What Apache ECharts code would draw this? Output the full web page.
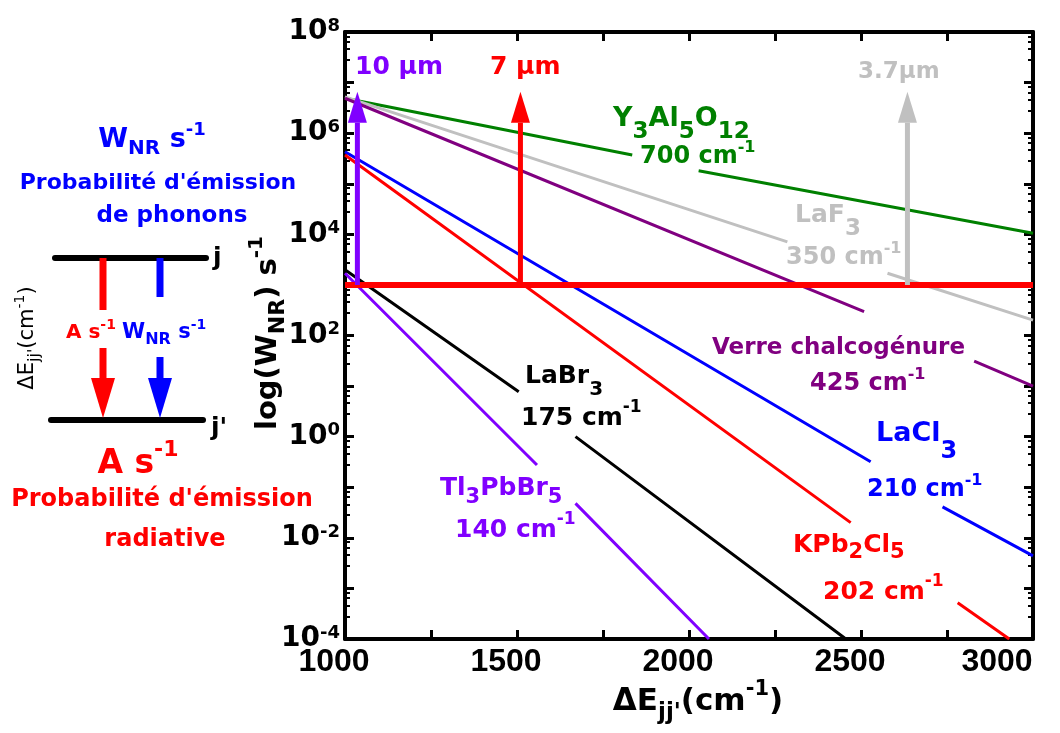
<!DOCTYPE html>
<html>
<head>
<meta charset="utf-8">
<script src="https://cdn.jsdelivr.net/npm/echarts@6/dist/echarts.min.js"></script>
<style>
  html, body { margin: 0; padding: 0; background: #fff; }
  #chart { width: 1060px; height: 733px; }
</style>
</head>
<body>
<div id="chart"></div>
<script>
// ---------- data ----------
const xTicks = [1000, 1500, 2000, 2500, 3000];
const yExponents = [-4, -2, 0, 2, 4, 6, 8];

// Y3Al5O12 700 cm-1
const yagX = [1000, 1835, null, 2028, 3000];
const yagY = [4.9e6, 3.7e5, null, 1.8e5, 1.05e4];
// LaF3 350 cm-1
const lafX = [1000, 2286, null, 2577, 3000];
const lafY = [5.2e6, 7.1e3, null, 1.7e3, 202];
// Verre chalcogénure 425 cm-1
const chalcoX = [1000, 2509, null, 2829, 3000];
const chalcoY = [4.9e6, 295, null, 31, 10];
// LaCl3 210 cm-1
const laclX = [1000, 2528, null, 2737, 3000];
const laclY = [4.3e5, 0.32, null, 0.041, 4.4e-3];
// KPb2Cl5 202 cm-1
const kpbX = [1000, 2470, null, 2781, 2931];
const kpbY = [3.7e5, 0.020, null, 5.2e-4, 1e-4];
// LaBr3 175 cm-1
const labrX = [1000, 1505, null, 1670, 2456];
const labrY = [2.0e3, 7.7, null, 1.0, 1e-4];
// Tl3PbBr5 140 cm-1
const tlX = [1000, 1558, null, 1670, 2058];
const tlY = [1.7e3, 0.275, null, 0.048, 1e-4];

// radiative threshold line
const thresholdX = [1000, 3000];
const thresholdY = [1e3, 1e3];

// wavelength arrows: 10 µm, 7 µm, 3.7 µm
const arrowX = [1036, 1510, 2635];
const arrowBase = 1e3;
const arrowTop = 1.6e6;

// ---------- style ----------
const FONT = 'DejaVu Sans, Liberation Sans, sans-serif';
const TICKFONT = 'Liberation Sans, Arial, sans-serif';
const C = {
  green: '#008000', gray: '#c0c0c0', purple: '#800080', blue: '#0000ff',
  red: '#ff0000', black: '#000000', violet: '#8000ff'
};

function pairs(xs, ys) {
  return xs.map((x, i) => (x == null ? ['-', '-'] : [x, ys[i]]));
}
function lineSeries(xs, ys, color, width) {
  return {
    type: 'line', data: pairs(xs, ys), showSymbol: false, symbol: 'none',
    connectNulls: false, silent: true, animation: false,
    lineStyle: { color: color, width: width || 3 }, z: 3
  };
}
function arrowSeries(x, color) {
  return {
    type: 'line', silent: true, animation: false, showSymbol: true, symbol: 'none',
    lineStyle: { color: color, width: 5 }, itemStyle: { color: color }, z: 6,
    data: [
      { value: [x, arrowBase], symbol: 'none' },
      { value: [x, arrowTop], symbol: 'triangle', symbolSize: [19, 31], symbolOffset: [0, '-50%'] }
    ]
  };
}

// rich text helper for graphic labels (sub/superscripts)
function rich(color, size, bold, subRatio, drop) {
  const w = bold === false ? 'normal' : 'bold';
  const sub = Math.round(size * (subRatio || 0.75));
  const sup = Math.round(size * 0.68);
  const d = drop != null ? drop : Math.round(size * 0.35);
  const Lm = Math.max(2 * d + sub, Math.round(size * 1.3));
  const raise = Math.round(size * 0.42);
  const q = Math.max(0, Math.round(Lm / 2 - sup / 2 - raise));
  const pb = Math.max(0, Math.round(Lm / 2 - sub / 2 - d));
  return {
    m: { fill: color, fontSize: size, fontWeight: w, fontFamily: FONT, lineHeight: Lm },
    sub: { fill: color, fontSize: sub, fontWeight: w, fontFamily: FONT, verticalAlign: 'bottom', padding: [0, 0, pb, 0] },
    sup: { fill: color, fontSize: sup, fontWeight: w, fontFamily: FONT, verticalAlign: 'top', padding: [q, 0, 0, 0] }
  };
}
function label(x, y, text, color, size, align, opts) {
  const o = opts || {};
  return {
    type: 'text', x: x, y: y, rotation: o.rotation || 0, z: 20, silent: true,
    style: {
      text: text, rich: rich(color, size, o.bold, o.subRatio, o.drop), fill: color,
      font: (o.bold === false ? '' : 'bold ') + size + 'px ' + FONT,
      align: align || 'left', verticalAlign: 'middle'
    }
  };
}

const graphics = [
  // ---- left explanatory diagram ----
  label(152, 140, '{m|W}{sub|NR}{m| s}{sup|-1}', C.blue, 27, 'center'),
  label(158, 183, '{m|Probabilité d\'émission}', C.blue, 22, 'center'),
  label(172, 216, '{m|de phonons}', C.blue, 23, 'center'),
  { type: 'line', silent: true, shape: { x1: 55, y1: 258, x2: 206, y2: 258 }, style: { stroke: '#000', lineWidth: 6, lineCap: 'round' } },
  { type: 'line', silent: true, shape: { x1: 51, y1: 420, x2: 203, y2: 420 }, style: { stroke: '#000', lineWidth: 6, lineCap: 'round' } },
  label(213, 258, '{m|j}', C.black, 25, 'left'),
  label(211, 428, '{m|j\'}', C.black, 25, 'left'),
  // red arrow (radiative)
  { type: 'line', silent: true, shape: { x1: 103, y1: 258, x2: 103, y2: 310 }, style: { stroke: C.red, lineWidth: 7 } },
  { type: 'line', silent: true, shape: { x1: 103, y1: 348, x2: 103, y2: 382 }, style: { stroke: C.red, lineWidth: 7 } },
  { type: 'polygon', silent: true, shape: { points: [[91, 378], [115, 378], [103, 418]] }, style: { fill: C.red } },
  // blue arrow (non-radiative)
  { type: 'line', silent: true, shape: { x1: 160, y1: 258, x2: 160, y2: 297 }, style: { stroke: C.blue, lineWidth: 7 } },
  { type: 'line', silent: true, shape: { x1: 160, y1: 357, x2: 160, y2: 382 }, style: { stroke: C.blue, lineWidth: 7 } },
  { type: 'polygon', silent: true, shape: { points: [[148, 378], [172, 378], [160, 418]] }, style: { fill: C.blue } },
  label(66, 333, '{m|A s}{sup|-1}', C.red, 20, 'left'),
  label(122, 333, '{m|W}{sub|NR}{m| s}{sup|-1}', C.blue, 21, 'left'),
  label(28, 338, '{m|ΔE}{sub|jj\'}{m|(cm}{sup|-1}{m|)}', C.black, 21, 'center', { bold: false, rotation: Math.PI / 2 }),
  label(138, 464, '{m|A s}{sup|-1}', C.red, 33, 'center'),
  label(162, 500, '{m|Probabilité d\'émission}', C.red, 24, 'center'),
  label(165, 540, '{m|radiative}', C.red, 24, 'center'),

  // ---- axis titles ----
  label(268, 333, '{m|log(W}{sub|NR}{m|) s}{sup|-1}', C.black, 29, 'center', { rotation: Math.PI / 2 }),
  label(698, 702, '{m|ΔE}{sub|jj\'}{m|(cm}{sup|-1}{m|)}', C.black, 31, 'center'),

  // ---- in-plot labels ----
  label(355, 67, '{m|10 µm}', C.violet, 25, 'left'),
  label(490, 67, '{m|7 µm}', C.red, 25, 'left'),
  label(858, 72, '{m|3.7µm}', C.gray, 23, 'left'),
  label(613, 119, '{m|Y}{sub|3}{m|Al}{sub|5}{m|O}{sub|12}', C.green, 27, 'left', { subRatio: 0.85, drop: 13 }),
  label(640, 157, '{m|700 cm}{sup|-1}', C.green, 24, 'left'),
  label(795, 215, '{m|LaF}{sub|3}', C.gray, 25, 'left', { subRatio: 0.9, drop: 14 }),
  label(786, 258, '{m|350 cm}{sup|-1}', C.gray, 24, 'left'),
  label(712, 348, '{m|Verre chalcogénure}', C.purple, 23, 'left'),
  label(810, 384, '{m|425 cm}{sup|-1}', C.purple, 24, 'left'),
  label(876, 434, '{m|LaCl}{sub|3}', C.blue, 27, 'left', { subRatio: 0.9, drop: 18 }),
  label(867, 490, '{m|210 cm}{sup|-1}', C.blue, 24, 'left'),
  label(793, 545, '{m|KPb}{sub|2}{m|Cl}{sub|5}', C.red, 25, 'left', { subRatio: 0.85, drop: 8 }),
  label(823, 592, '{m|202 cm}{sup|-1}', C.red, 25, 'left'),
  label(525, 376, '{m|LaBr}{sub|3}', C.black, 25, 'left', { subRatio: 0.8, drop: 14 }),
  label(521, 418, '{m|175 cm}{sup|-1}', C.black, 25, 'left'),
  label(440, 488, '{m|Tl}{sub|3}{m|PbBr}{sub|5}', C.violet, 25, 'left', { subRatio: 0.85, drop: 10 }),
  label(455, 530, '{m|140 cm}{sup|-1}', C.violet, 25, 'left')
];

const axisLineStyle = { show: true, lineStyle: { color: '#000', width: 4 } };

const yLabelRich = {
  b: { fontSize: 28, fontWeight: 'bold', fontFamily: FONT, color: '#000', lineHeight: 30 },
  s: { fontSize: 18, fontWeight: 'bold', fontFamily: FONT, color: '#000', verticalAlign: 'top', lineHeight: 19 }
};
const xLabelRich = {
  n: { fontSize: 32, fontWeight: 'bold', fontFamily: TICKFONT, color: '#000' },
  e: { fontSize: 32, fontWeight: 'bold', fontFamily: TICKFONT, color: '#000', padding: [0, 50, 0, 0] }
};

const option = {
  backgroundColor: '#fff',
  animation: false,
  grid: { left: 345, right: 27, top: 32, bottom: 94, containLabel: false },
  xAxis: [
    {
      type: 'value', min: 1000, max: 3000, interval: 250, position: 'bottom',
      axisLine: axisLineStyle,
      axisTick: { show: true, inside: true, length: 9, lineStyle: { width: 3, color: '#000' } },
      splitLine: { show: false },
      axisLabel: {
        margin: 7, rich: xLabelRich,
        padding: [0, 22, 0, 0],
        formatter: v => {
          if (xTicks.indexOf(v) < 0) return '';
          return v === xTicks[xTicks.length - 1] ? '{e|' + v + '}' : '{n|' + v + '}';
        }
      }
    },
    {
      type: 'value', min: 1000, max: 3000, interval: 250, position: 'top',
      axisLine: axisLineStyle,
      axisTick: { show: true, inside: true, length: 9, lineStyle: { width: 3, color: '#000' } },
      splitLine: { show: false }, axisLabel: { show: false }
    }
  ],
  yAxis: [
    {
      type: 'log', min: 1e-4, max: 1e8, interval: 1, position: 'left',
      axisLine: axisLineStyle,
      axisTick: { show: true, inside: true, length: 9, lineStyle: { width: 3, color: '#000' } },
      minorTick: { show: true, splitNumber: 5, length: 5, lineStyle: { width: 2, color: '#000' } },
      splitLine: { show: false }, minorSplitLine: { show: false },
      axisLabel: {
        margin: 5, rich: yLabelRich,
        formatter: v => {
          const e = Math.round(Math.log10(v));
          return yExponents.indexOf(e) >= 0 ? '{b|10}{s|' + e + '}' : '';
        }
      }
    },
    {
      type: 'log', min: 1e-4, max: 1e8, interval: 1, position: 'right',
      axisLine: axisLineStyle,
      axisTick: { show: true, inside: true, length: 9, lineStyle: { width: 3, color: '#000' } },
      minorTick: { show: true, splitNumber: 5, length: 5, lineStyle: { width: 2, color: '#000' } },
      splitLine: { show: false }, axisLabel: { show: false }
    }
  ],
  series: [
    lineSeries(yagX, yagY, C.green),
    lineSeries(lafX, lafY, C.gray),
    lineSeries(chalcoX, chalcoY, C.purple),
    lineSeries(laclX, laclY, C.blue),
    lineSeries(kpbX, kpbY, C.red),
    lineSeries(labrX, labrY, C.black),
    lineSeries(tlX, tlY, C.violet),
    Object.assign(lineSeries(thresholdX, thresholdY, C.red, 6), { z: 5 }),
    arrowSeries(arrowX[0], C.violet),
    arrowSeries(arrowX[1], C.red),
    arrowSeries(arrowX[2], C.gray)
  ],
  graphic: graphics
};

const chart = echarts.init(document.getElementById('chart'), null, { renderer: 'canvas' });
chart.setOption(option);
</script>
</body>
</html>
